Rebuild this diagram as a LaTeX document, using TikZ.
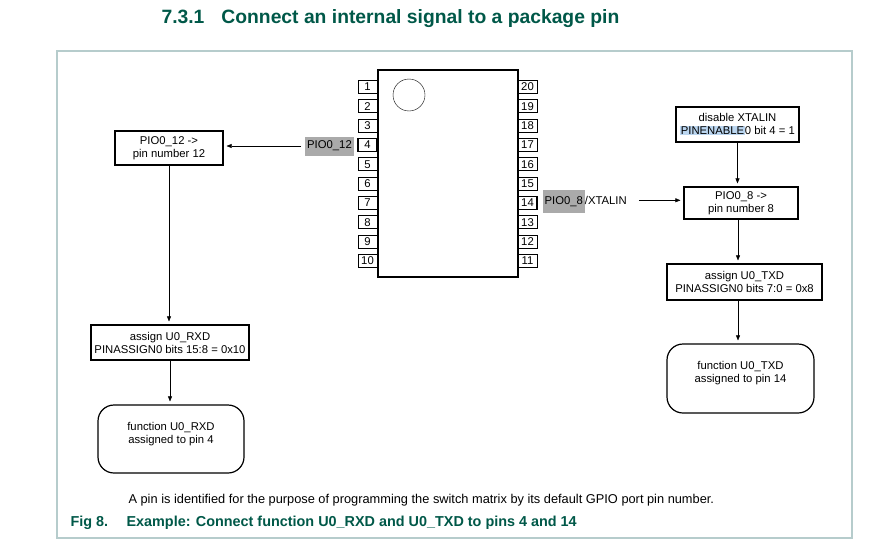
\documentclass[tikz,border=0pt]{standalone}
\usepackage{fontspec}
\setmainfont{Liberation Sans}
\usetikzlibrary{arrows.meta,positioning}
\definecolor{nxpgreen}{RGB}{0,88,72}
\definecolor{framegray}{RGB}{182,204,204}
\definecolor{taggray}{RGB}{170,170,170}
\definecolor{selblue}{RGB}{187,214,240}
\newcommand{\selmark}[1]{{\setlength{\fboxsep}{0.6pt}\colorbox{selblue}{#1}}}

\begin{document}
\begin{tikzpicture}[x=1pt,y=-1pt,font=\fontsize{11.3}{13}\selectfont,
  stepbox/.style={draw,line width=1.2pt,align=center,inner sep=0pt},
  funcbox/.style={draw,line width=1.2pt,align=center,inner sep=0pt,rounded corners=16pt},
  pinbox/.style={draw,inner sep=0pt,minimum width=19pt,minimum height=13pt},
  sigtag/.style={fill=taggray,inner xsep=2pt,inner ysep=0pt,minimum height=19pt},
  >={Triangle[length=5pt,width=4pt]}]
  \useasboundingbox (0,0) rectangle (890,551);
  \node[anchor=west,text=nxpgreen,font=\fontsize{19.3}{23}\selectfont\bfseries] (title)
    at (158,19) {7.3.1\hspace{17pt}Connect an internal signal to a package pin};
  \draw[framegray,line width=1.2pt] (57,51) rectangle (852,538);
  % package outline
  \node[draw,line width=1.5pt,minimum width=140pt,minimum height=207pt] (chip) at (448,173.5) {};
  \node[draw,circle,minimum size=32pt] (dot) at (409,95) {};
  \foreach \n in {1,...,10}{
    \pgfmathsetmacro{\py}{87+(\n-1)*19.33}
    \pgfmathtruncatemacro{\m}{21-\n}
    \ifnum\n=4 \def\lw{1.4pt}\else\def\lw{0.7pt}\fi
    \node[pinbox,line width=\lw] (pin\n) at (367.5,\py) {\n};
    \ifnum\n=7 \def\lw{1.4pt}\else\def\lw{0.7pt}\fi
    \node[pinbox,line width=\lw] (pin\m) at (527.5,\py) {\m};
  }
  \node[sigtag,anchor=east] (tag12) at (354,146) {PIO0\_12};
  \node[sigtag,anchor=west,minimum height=23pt,inner xsep=1.5pt] (tag8) at (543,201.5) {PIO0\_8};
  \node[anchor=base west,inner sep=0pt] (xtal) at (tag8.base east) {/XTALIN};
  % left chain
  \node[stepbox,minimum width=108pt,minimum height=34pt] (map12) at (169,148) {PIO0\_12 -{>}\\pin number 12};
  \node[stepbox,minimum width=158pt,minimum height=35pt] (rxdset) at (170,342.5) {assign U0\_RXD\\PINASSIGN0 bits 15:8 = 0x10};
  \node[funcbox,minimum width=146pt,minimum height=68pt] (rxdfn) at (171,439) {function U0\_RXD\\assigned to pin 4\\\mbox{}};
  % right chain
  \node[stepbox,minimum width=123pt,minimum height=35pt] (xtaloff) at (737.5,124.5) {disable XTALIN\\\selmark{PINENABLE}0 bit 4 = 1};
  \node[stepbox,minimum width=114pt,minimum height=32pt] (map8) at (741,203) {PIO0\_8 -{>}\\pin number 8};
  \node[stepbox,minimum width=155pt,minimum height=36pt] (txdset) at (744.5,282) {assign U0\_TXD\\PINASSIGN0 bits 7:0 = 0x8};
  \node[funcbox,minimum width=147pt,minimum height=69pt] (txdfn) at (740.5,378.5) {function U0\_TXD\\assigned to pin 14\\\mbox{}};
  \draw[->,shorten <=4pt,shorten >=3pt] (tag12.west) -- (tag12.west -| map12.east);
  \draw[->,shorten <=12pt,shorten >=3pt] (xtal.east) -- (xtal.east -| map8.west);
  \draw[->,shorten >=3pt] (map12.south) -- (map12.south |- rxdset.north);
  \draw[->,shorten >=3pt] (rxdset.south) -- (rxdset.south |- rxdfn.north);
  \draw[->,shorten >=3pt] (xtaloff.south) -- (xtaloff.south |- map8.north);
  \draw[->,shorten >=3pt] ([xshift=-3pt]map8.south) -- ([xshift=-3pt]map8.south |- txdset.north);
  \draw[->,shorten >=3pt] ([xshift=-6.5pt]txdset.south) -- ([xshift=-6.5pt]txdset.south |- txdfn.north);
  % captions
  \node[anchor=west,font=\fontsize{12.8}{15}\selectfont] (note) at (125,500) {A pin is identified for the purpose of programming the switch matrix by its default GPIO port pin number.};
  \node[anchor=west,text=nxpgreen,font=\fontsize{14.4}{17}\selectfont\bfseries] (figno) at (67,523) {Fig 8.};
  \node[anchor=west,text=nxpgreen,font=\fontsize{14.4}{17}\selectfont\bfseries] (figtitle) at (123,523) {Example: Connect function U0\_RXD and U0\_TXD to pins 4 and 14};
\end{tikzpicture}
\end{document}
